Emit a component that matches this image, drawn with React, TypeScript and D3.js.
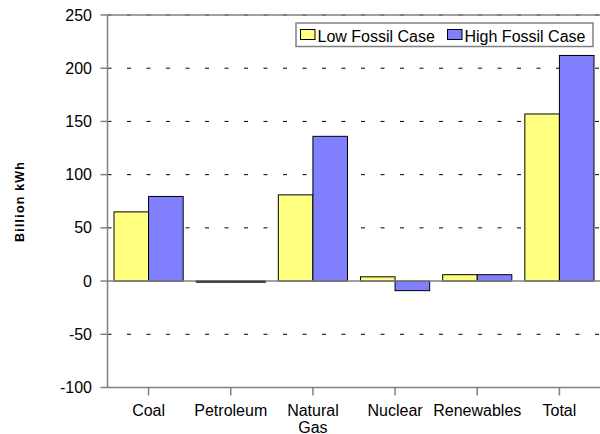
import React from "react";
import * as d3 from "d3";

const categories = ["Coal", "Petroleum", "Natural Gas", "Nuclear", "Renewables", "Total"];
const categoryLines = [["Coal"], ["Petroleum"], ["Natural", "Gas"], ["Nuclear"], ["Renewables"], ["Total"]];
const seriesNames = ["Low Fossil Case", "High Fossil Case"];
const lowFossil = [65, -1, 81, 4, 6, 157];
const highFossil = [79.5, -1, 136, -9, 6, 212];
const yTicks = [-100, -50, 0, 50, 100, 150, 200, 250];
const colors = ["#FFFF80", "#8080FF"];

const W = 600, H = 434;
const left = 107.5, right = 600.5, top = 15, bottom = 387.5;
const FONT = "'Liberation Sans', Arial, sans-serif";

export default function App() {
  const x0 = d3.scaleBand<string>().domain(categories).range([left, right]);
  const bw = x0.bandwidth();
  const x1 = d3.scaleBand<string>().domain(seriesNames).range([6.5, bw - 6.5]);
  const y = d3.scaleLinear().domain([-100, 250]).range([bottom, top]);
  const series = [lowFossil, highFossil];

  return (
    <svg width={W} height={H} style={{ position: "absolute", left: 0, top: 0, background: "#fff" }} fontFamily={FONT}>
      {yTicks.filter(t => t !== 0).map(t => (
        <line key={"g" + t} x1={left} x2={right} y1={y(t)} y2={y(t)} stroke="#000" strokeWidth={1} strokeDasharray="4,15.5" />
      ))}
      <line x1={left} x2={right} y1={y(250)} y2={y(250)} stroke="#808080" strokeWidth={1.5} />
      <line x1={left} x2={right} y1={y(-100)} y2={y(-100)} stroke="#808080" strokeWidth={1.5} />
      {categories.map((c, i) => (
        <g key={c}>
          {series.map((s, j) => {
            const v = s[i];
            const yy = Math.min(y(v), y(0));
            const hh = Math.abs(y(v) - y(0));
            return (
              <rect key={j} x={(x0(c) as number) + (x1(seriesNames[j]) as number)} y={yy} width={x1.bandwidth()} height={hh}
                fill={colors[j]} stroke="#000" strokeWidth={1} />
            );
          })}
        </g>
      ))}
      <line x1={left} x2={right} y1={y(0)} y2={y(0)} stroke="#808080" strokeWidth={1.5} />
      {series.map((s, j) => (
        s[1] < 0 ? <line key={"p" + j} x1={(x0("Petroleum") as number) + (x1(seriesNames[j]) as number)} x2={(x0("Petroleum") as number) + (x1(seriesNames[j]) as number) + x1.bandwidth()}
          y1={y(s[1]) - 0.5} y2={y(s[1]) - 0.5} stroke="#444" strokeWidth={2} /> : null
      ))}
      <line x1={left} x2={left} y1={top} y2={bottom} stroke="#808080" strokeWidth={1.5} />
      {yTicks.map(t => (
        <g key={"y" + t}>
          <line x1={left - 7} x2={left} y1={y(t)} y2={y(t)} stroke="#808080" strokeWidth={1.5} />
          <text x={92} y={y(t)} dy="0.35em" textAnchor="end" fontSize={16} fill="#000">{t}</text>
        </g>
      ))}
      {categories.map((c, i) => {
        const cx = (x0(c) as number) + bw / 2;
        return (
          <g key={"x" + c}>
            <line x1={cx} x2={cx} y1={bottom} y2={bottom + 8} stroke="#808080" strokeWidth={1.5} />
            {categoryLines[i].map((ln, k) => (
              <text key={k} x={cx} y={415.5 + k * 17} textAnchor="middle" fontSize={16} fill="#000">{ln}</text>
            ))}
          </g>
        );
      })}
      <text transform="translate(23.5,202) rotate(-90)" textAnchor="middle" fontSize={12.5} fontWeight="bold" fill="#000"
        textLength={80} lengthAdjust="spacing">Billion kWh</text>
      <rect x={296} y={23} width={297} height={23.5} fill="#fff" stroke="#808080" strokeWidth={1.5} />
      <rect x={300.5} y={29.5} width={14.5} height={10} fill={colors[0]} stroke="#000" strokeWidth={1} />
      <text x={317.5} y={41.7} fontSize={16} fill="#000">{seriesNames[0]}</text>
      <rect x={447.5} y={29.5} width={14.5} height={10} fill={colors[1]} stroke="#000" strokeWidth={1} />
      <text x={464.5} y={41.7} fontSize={16} fill="#000">{seriesNames[1]}</text>
    </svg>
  );
}
